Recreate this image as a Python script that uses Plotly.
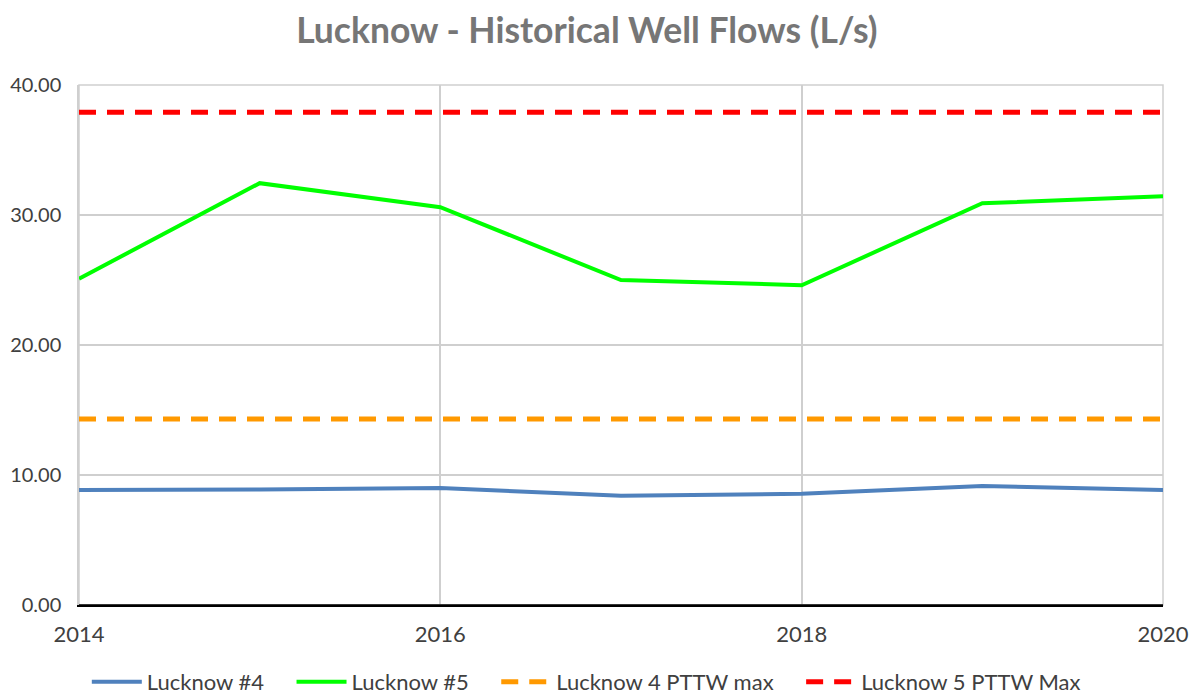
import plotly.graph_objects as go

years = [2014, 2015, 2016, 2017, 2018, 2019, 2020]
lucknow4 = [8.85, 8.88, 9.0, 8.4, 8.55, 9.15, 8.85]
lucknow5 = [25.1, 32.45, 30.6, 25.0, 24.6, 30.9, 31.45]
pttw4_max = [14.3] * len(years)
pttw5_max = [37.9] * len(years)
series_names = ["Lucknow #4", "Lucknow #5", "Lucknow 4 PTTW max", "Lucknow 5 PTTW Max"]

font = "Lato, 'Open Sans', sans-serif"
pad = "&nbsp;" * 4

fig = go.Figure()
fig.add_trace(go.Scatter(x=years, y=lucknow4, mode="lines", name=series_names[0] + pad,
                         line=dict(color="#4F81BD", width=4)))
fig.add_trace(go.Scatter(x=years, y=lucknow5, mode="lines", name=series_names[1] + pad,
                         line=dict(color="#00FF00", width=4)))
fig.add_trace(go.Scatter(x=years, y=pttw4_max, mode="lines", name=series_names[2] + pad,
                         line=dict(color="#FF9900", width=5, dash="17px,11px")))
fig.add_trace(go.Scatter(x=years, y=pttw5_max, mode="lines", name=series_names[3],
                         line=dict(color="#FF0000", width=5, dash="17px,11px")))

fig.update_layout(
    width=1201, height=696,
    margin=dict(l=71, r=46, t=77, b=99, autoexpand=False),
    paper_bgcolor="white", plot_bgcolor="white",
    title=dict(text="<b>Lucknow - Historical Well Flows (L/s)</b>", x=0.482, xanchor="center",
               y=0.967, yanchor="middle",
               font=dict(family=font, size=35.5, color="#767676")),
    font=dict(family=font, size=20, color="#404040"),
    showlegend=True,
    legend=dict(orientation="h", x=0.468, xanchor="center", y=-0.148, yanchor="middle",
                font=dict(size=22, color="#404040"), itemwidth=50, tracegroupgap=0),
    xaxis=dict(range=[2014, 2020], tickvals=[2014, 2016, 2018, 2020],
               showgrid=True, gridcolor="#CFCFCF", gridwidth=1.5,
               showline=True, linecolor="#000000", linewidth=1.5,
               mirror=False, ticks="", zeroline=False, ticklabelstandoff=9,
               tickfont=dict(size=22, color="#404040")),
    yaxis=dict(range=[0, 40], tickvals=[0, 10, 20, 30, 40], tickformat=".2f",
               showgrid=True, gridcolor="#CFCFCF", gridwidth=1.5,
               showline=True, linecolor="#CFCFCF", linewidth=1.5,
               mirror=False, ticks="", ticklabelstandoff=12,
               zeroline=False, tickfont=dict(size=20, color="#404040")),
)
fig.add_shape(type="rect", xref="paper", yref="paper", x0=0, y0=0, x1=1, y1=1,
              line=dict(color="#CFCFCF", width=1.5), layer="below")
fig.add_shape(type="line", xref="paper", yref="paper", x0=0, y0=0, x1=1, y1=0,
              line=dict(color="#000000", width=1.5))

fig.write_html("out.html")
